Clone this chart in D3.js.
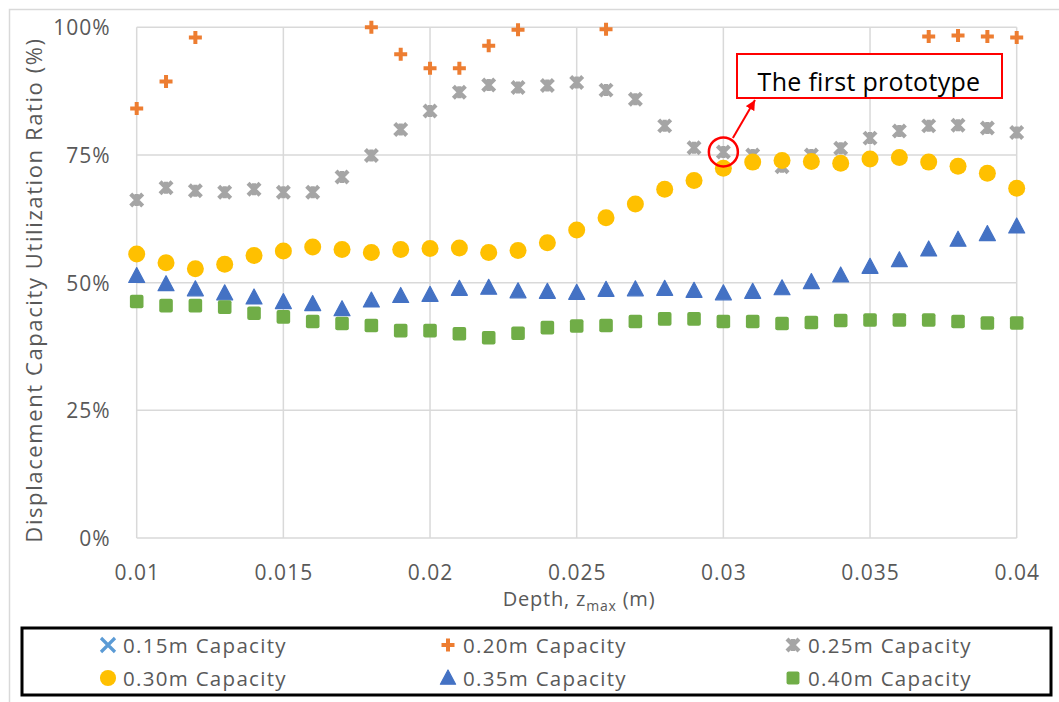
<!DOCTYPE html>
<html>
<head>
<meta charset="utf-8">
<script src="https://cdn.jsdelivr.net/npm/d3@7"></script>
<style>
  html, body { margin: 0; padding: 0; background: #fff; }
  svg { display: block; font-family: "Open Sans", sans-serif; }
</style>
</head>
<body>
<svg id="chart" width="1059" height="702"></svg>
<script>
// depth z_max (m)
var depths = [0.010, 0.011, 0.012, 0.013, 0.014, 0.015, 0.016, 0.017, 0.018, 0.019, 0.020,
              0.021, 0.022, 0.023, 0.024, 0.025, 0.026, 0.027, 0.028, 0.029, 0.030,
              0.031, 0.032, 0.033, 0.034, 0.035, 0.036, 0.037, 0.038, 0.039, 0.040];

// utilization ratio (%), null = off the chart (above 100%)
var cap015 = [null, null, null, null, null, null, null, null, null, null, null,
              null, null, null, null, null, null, null, null, null, null,
              null, null, null, null, null, null, null, null, null, null];
var cap020 = [84.1, 89.4, 98.0, null, null, null, null, null, 100.0, 94.7, 92.0,
              92.0, 96.4, 99.5, null, null, 99.6, null, null, null, null,
              null, null, null, null, null, null, 98.2, 98.4, 98.2, 98.0];
var cap025 = [66.2, 68.6, 68.0, 67.7, 68.3, 67.7, 67.7, 70.7, 74.9, 80.0, 83.6,
              87.3, 88.7, 88.2, 88.6, 89.2, 87.7, 85.9, 80.7, 76.4, 75.6,
              75.0, 72.7, 75.0, 76.3, 78.3, 79.7, 80.7, 80.8, 80.3, 79.4];
var cap030 = [55.6, 53.9, 52.7, 53.6, 55.3, 56.2, 57.0, 56.5, 55.9, 56.5, 56.7,
              56.8, 55.9, 56.3, 57.8, 60.3, 62.7, 65.4, 68.3, 70.0, 72.4,
              73.6, 73.9, 73.7, 73.4, 74.2, 74.5, 73.6, 72.8, 71.4, 68.5];
var cap035 = [51.3, 49.7, 48.7, 47.9, 47.1, 46.2, 45.8, 44.8, 46.5, 47.4, 47.6,
              48.8, 49.0, 48.3, 48.2, 48.0, 48.6, 48.7, 48.8, 48.4, 47.9,
              48.2, 48.9, 50.1, 51.4, 53.1, 54.4, 56.5, 58.4, 59.5, 61.0];
var cap040 = [46.3, 45.5, 45.5, 45.2, 44.0, 43.3, 42.4, 42.0, 41.6, 40.6, 40.6,
              40.0, 39.2, 40.1, 41.2, 41.5, 41.6, 42.4, 42.9, 42.9, 42.4,
              42.4, 42.0, 42.2, 42.6, 42.7, 42.7, 42.7, 42.4, 42.1, 42.1];

var xTicks = [0.01, 0.015, 0.02, 0.025, 0.03, 0.035, 0.04];
var xTickLabels = ['0.01', '0.015', '0.02', '0.025', '0.03', '0.035', '0.04'];
var yTicks = [0, 25, 50, 75, 100];
var yTickLabels = ['0%', '25%', '50%', '75%', '100%'];

var seriesNames = ['0.15m Capacity', '0.20m Capacity', '0.25m Capacity',
                   '0.30m Capacity', '0.35m Capacity', '0.40m Capacity'];

// the highlighted point: first prototype
var protoDepth = 0.030;
var protoValue = 75.6;
var protoLabel = 'The first prototype';

(function (d3) {
    'use strict';

    var svg = d3.select('#chart');
    var textColor = '#595959';
    var gridColor = '#d9d9d9';

    var series = [
        {name: seriesNames[0], values: cap015, shape: 'x',        color: '#5b9bd5'},
        {name: seriesNames[1], values: cap020, shape: 'plus',     color: '#ed7d31'},
        {name: seriesNames[2], values: cap025, shape: 'star',     color: '#a5a5a5'},
        {name: seriesNames[3], values: cap030, shape: 'circle',   color: '#ffc000'},
        {name: seriesNames[4], values: cap035, shape: 'triangle', color: '#4472c4'},
        {name: seriesNames[5], values: cap040, shape: 'square',   color: '#70ad47'}
    ];

    var scaleX = d3.scaleLinear().domain([0.01, 0.04]).range([136.7, 1016.7]);
    var scaleY = d3.scaleLinear().domain([0, 100]).range([538, 27.3]);

    // chart area frame (only top and left edges are inside the picture)
    svg.append('path')
        .attr('d', 'M9.5,702 V9.5 H1059')
        .attr('fill', 'none')
        .attr('stroke', gridColor)
        .attr('stroke-width', 1.5);

    // gridlines
    svg.append('g').selectAll('line.h')
        .data(yTicks)
        .join('line')
        .attr('x1', scaleX(0.01)).attr('x2', scaleX(0.04))
        .attr('y1', function (d) { return scaleY(d); })
        .attr('y2', function (d) { return scaleY(d); })
        .attr('stroke', gridColor)
        .attr('stroke-width', 1.5);

    svg.append('g').selectAll('line.v')
        .data(xTicks)
        .join('line')
        .attr('y1', scaleY(0)).attr('y2', scaleY(100))
        .attr('x1', function (d) { return scaleX(d); })
        .attr('x2', function (d) { return scaleX(d); })
        .attr('stroke', gridColor)
        .attr('stroke-width', 1.5);

    // axes (labels only, lines come from the grid)
    var xAxis = d3.axisBottom(scaleX)
        .tickValues(xTicks)
        .tickSize(0)
        .tickPadding(0)
        .tickFormat(function (d, i) { return xTickLabels[i]; });

    svg.append('g')
        .attr('transform', 'translate(0,' + scaleY(0) + ')')
        .call(xAxis)
        .call(function (g) {
            g.select('.domain').remove();
            g.selectAll('.tick text')
                .attr('y', 42).attr('dy', 0)
                .attr('fill', textColor)
                .attr('font-size', 21)
                .attr('letter-spacing', 1)
                .attr('font-family', '"Open Sans", sans-serif');
        });

    var yAxis = d3.axisLeft(scaleY)
        .tickValues(yTicks)
        .tickSize(0)
        .tickPadding(0)
        .tickFormat(function (d, i) { return yTickLabels[i]; });

    svg.append('g')
        .attr('transform', 'translate(' + scaleX(0.01) + ',0)')
        .call(yAxis)
        .call(function (g) {
            g.select('.domain').remove();
            g.selectAll('.tick text')
                .attr('x', -26).attr('dy', '0.36em')
                .attr('fill', textColor)
                .attr('font-size', 21)
                .attr('letter-spacing', 1)
                .attr('font-family', '"Open Sans", sans-serif');
        });

    // axis titles
    var xTitle = svg.append('text')
        .attr('x', 579).attr('y', 606)
        .attr('text-anchor', 'middle')
        .attr('fill', textColor)
        .attr('letter-spacing', 0.8)
        .attr('font-size', 20);
    xTitle.append('tspan').text('Depth, z');
    xTitle.append('tspan').attr('dy', 5).attr('font-size', 14).text('max');
    xTitle.append('tspan').attr('dy', -5).text(' (m)');

    svg.append('text')
        .attr('transform', 'translate(42,' + 290 + ') rotate(-90)')
        .attr('text-anchor', 'middle')
        .attr('fill', textColor)
        .attr('font-size', 22)
        .attr('letter-spacing', 1.6)
        .text('Displacement Capacity Utilization Ratio (%)');

    // marker shapes
    function drawMarker(g, shape, color, scale) {
        var s = scale || 1;
        if (shape === 'circle') {
            g.append('circle').attr('r', 8.5 * s).attr('fill', color);
        } else if (shape === 'square') {
            g.append('rect')
                .attr('x', -6.8 * s).attr('y', -6.8 * s)
                .attr('width', 13.6 * s).attr('height', 13.6 * s)
                .attr('rx', 2).attr('fill', color);
        } else if (shape === 'triangle') {
            g.append('path')
                .attr('d', 'M0,' + (-8.5 * s) + 'L' + (8 * s) + ',' + (6.5 * s) + 'L' + (-8 * s) + ',' + (6.5 * s) + 'Z')
                .attr('fill', color)
                .attr('stroke', color)
                .attr('stroke-width', 1.2)
                .attr('stroke-linejoin', 'round');
        } else if (shape === 'plus') {
            g.append('path')
                .attr('d', 'M-6.5,0H6.5M0,-6.5V6.5')
                .attr('stroke', color)
                .attr('stroke-width', 4)
                .attr('fill', 'none');
        } else if (shape === 'x') {
            g.append('path')
                .attr('d', 'M-7,-7L7,7M7,-7L-7,7')
                .attr('stroke', color)
                .attr('stroke-width', 3.2)
                .attr('fill', 'none');
        } else if (shape === 'star') {
            g.append('path')
                .attr('d', 'M-6,-6L6,6M6,-6L-6,6M0,-6V6')
                .attr('stroke', color)
                .attr('stroke-width', 4.2)
                .attr('fill', 'none');
        }
    }

    // series markers
    series.forEach(function (sr) {
        var points = depths.map(function (d, i) { return {x: d, y: sr.values[i]}; })
            .filter(function (p) { return p.y !== null; });

        svg.append('g')
            .attr('class', 'series')
            .selectAll('g')
            .data(points)
            .join('g')
            .attr('transform', function (p) { return 'translate(' + scaleX(p.x) + ',' + scaleY(p.y) + ')'; })
            .each(function () { drawMarker(d3.select(this), sr.shape, sr.color); });
    });

    // annotation: first prototype
    var cx = scaleX(protoDepth);
    var cy = scaleY(protoValue);

    svg.append('circle')
        .attr('cx', cx).attr('cy', cy).attr('r', 14.5)
        .attr('fill', 'none')
        .attr('stroke', '#ff0000')
        .attr('stroke-width', 2.5);

    svg.append('defs').append('marker')
        .attr('id', 'arrowHead')
        .attr('viewBox', '0 0 10 10')
        .attr('refX', 10).attr('refY', 5)
        .attr('markerWidth', 5).attr('markerHeight', 5)
        .attr('orient', 'auto')
        .append('path')
        .attr('d', 'M0,0L10,5L0,10Z')
        .attr('fill', '#ff0000');

    svg.append('line')
        .attr('x1', cx + 9.5).attr('y1', cy - 14)
        .attr('x2', 755).attr('y2', 100)
        .attr('stroke', '#ff0000')
        .attr('stroke-width', 2)
        .attr('marker-end', 'url(#arrowHead)');

    svg.append('rect')
        .attr('x', 737).attr('y', 54)
        .attr('width', 265).attr('height', 44)
        .attr('fill', '#fff')
        .attr('stroke', '#ff0000')
        .attr('stroke-width', 2);

    svg.append('text')
        .attr('x', 869).attr('y', 91)
        .attr('text-anchor', 'middle')
        .attr('fill', '#000')
        .attr('font-size', 25)
        .attr('letter-spacing', 0.3)
        .text(protoLabel);

    // legend
    svg.append('rect')
        .attr('x', 22).attr('y', 628)
        .attr('width', 1029).attr('height', 67)
        .attr('fill', '#fff')
        .attr('stroke', '#000')
        .attr('stroke-width', 3);

    var legendCols = [108, 448, 793];
    var legendRows = [645, 678];

    var items = svg.append('g').attr('class', 'legend')
        .selectAll('g')
        .data(series)
        .join('g')
        .attr('transform', function (d, i) {
            return 'translate(' + legendCols[i % 3] + ',' + legendRows[Math.floor(i / 3)] + ')';
        });

    items.each(function (d) { drawMarker(d3.select(this), d.shape, d.color, 0.95); });

    items.append('text')
        .attr('x', 15).attr('y', 7.5)
        .attr('fill', textColor)
        .attr('font-size', 20.5)
        .attr('letter-spacing', 1.3)
        .text(function (d) { return d.name; });

}(window.d3));
</script>
</body>
</html>
